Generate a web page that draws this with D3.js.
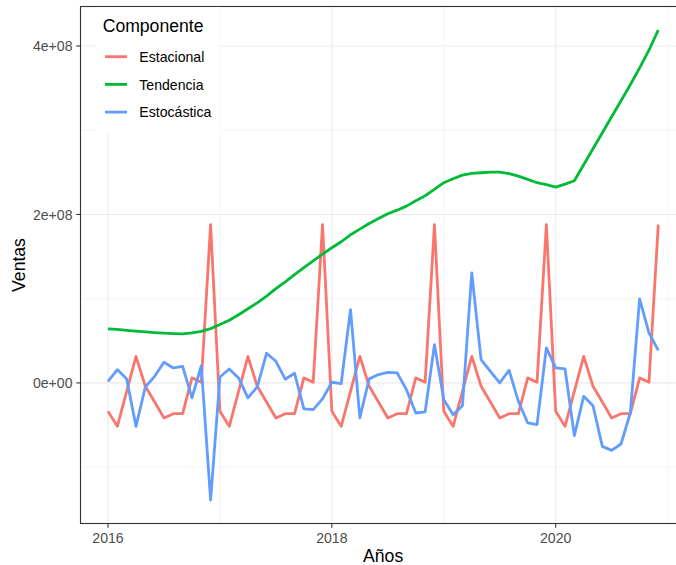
<!DOCTYPE html>
<html>
<head>
<meta charset="utf-8">
<script src="https://cdn.jsdelivr.net/npm/d3@7"></script>
<style>
  html, body { margin: 0; padding: 0; background: #fff; }
  svg { display: block; font-family: "Liberation Sans", Arial, sans-serif; }
</style>
</head>
<body>
<svg id="chart" width="676" height="565"></svg>
<script>
// Monthly decomposition of sales, Jan 2016 – Dec 2020 (values in millions)
const startYear = 2016;
const seriesNames = ["Estacional", "Tendencia", "Estocástica"];
const seriesColors = ["#F8766D", "#00BA38", "#619CFF"];

const estacional = [
  -33.7, -51.6, -10.0, 31.6, -4.0, -22.6, -41.6, -36.5, -36.5, 6.0, 0.7, 188.0,
  -33.7, -51.6, -10.0, 31.6, -4.0, -22.6, -41.6, -36.5, -36.5, 6.0, 0.7, 188.0,
  -33.7, -51.6, -10.0, 31.6, -4.0, -22.6, -41.6, -36.5, -36.5, 6.0, 0.7, 188.0,
  -33.7, -51.6, -10.0, 31.6, -4.0, -22.6, -41.6, -36.5, -36.5, 6.0, 0.7, 188.0,
  -33.7, -51.6, -10.0, 31.6, -4.0, -22.6, -41.6, -36.5, -36.5, 6.0, 0.7, 188.0
];

const tendencia = [
  64.2, 63.5, 62.5, 61.5, 60.5, 59.7, 59.0, 58.5, 58.2, 59.5, 61.3, 64.5,
  69.3, 74.5, 81.0, 88.0, 95.0, 103.0, 112.0, 120.0, 128.5, 137.0, 145.0, 153.0,
  160.5, 167.6, 175.9, 182.6, 189.3, 195.2, 200.8, 205.1, 209.9, 216.3, 222.2, 229.7,
  237.7, 242.4, 246.7, 248.7, 249.5, 250.3, 250.3, 248.4, 245.5, 241.6, 237.7, 235.3,
  232.5, 236.0, 240.0, 259.0, 278.0, 297.0, 316.0, 335.0, 354.0, 374.0, 395.0, 419.0
];

const estocastica = [
  1.9, 15.8, 4.8, -51.6, -4.8, 7.8, 24.5, 17.8, 19.7, -17.8, 20.6, -139.0,
  7.1, 16.6, 5.9, -17.8, -4.8, 35.2, 25.7, 4.4, 11.5, -30.9, -31.7, -19.0,
  0.8, -0.8, 87.1, -41.6, 4.8, 9.9, 12.6, 11.9, -8.0, -35.7, -34.5, 45.5,
  -19.8, -37.7, -27.0, 130.7, 27.7, 13.8, 0.0, 15.0, -21.8, -47.5, -49.5, 41.6,
  17.8, 16.6, -62.6, -15.9, -27.0, -75.3, -80.1, -72.5, -35.7, 99.8, 59.4, 38.7
];

const xTicks = [2016, 2018, 2020];
const xMinor = [2017, 2019, 2021];
const yTicks = [0, 2e8, 4e8];
const yTickLabels = ["0e+00", "2e+08", "4e+08"];
const yMinor = [-1e8, 1e8, 3e8];

const xTitle = "Años";
const yTitle = "Ventas";
const legendTitle = "Componente";

// ---- build long-format rows ----
const seriesValues = [estacional, tendencia, estocastica];
const series = seriesNames.map((name, s) => ({
  name,
  color: seriesColors[s],
  points: seriesValues[s].map((v, i) => ({ t: startYear + i / 12, v: v * 1e6 }))
}));

// ---- layout ----
const panel = { left: 80.5, top: 6.5, right: 685.8, bottom: 523.5 };
const svg = d3.select("#chart");

const allT = series.flatMap(s => s.points.map(p => p.t));
const allV = series.flatMap(s => s.points.map(p => p.v));
const tExt = d3.extent(allT), vExt = d3.extent(allV);
const tPad = (tExt[1] - tExt[0]) * 0.05, vPad = (vExt[1] - vExt[0]) * 0.05;

const x = d3.scaleLinear().domain([tExt[0] - tPad, tExt[1] + tPad]).range([panel.left, panel.right]);
const y = d3.scaleLinear().domain([vExt[0] - vPad, vExt[1] + vPad]).range([panel.bottom, panel.top]);

const gridColor = "#EBEBEB";
const g = svg.append("g");

// minor grid
g.selectAll(".ygm").data(yMinor).join("line")
  .attr("x1", panel.left).attr("x2", panel.right)
  .attr("y1", d => y(d)).attr("y2", d => y(d))
  .attr("stroke", gridColor).attr("stroke-width", 0.55);
g.selectAll(".xgm").data(xMinor).join("line")
  .attr("y1", panel.top).attr("y2", panel.bottom)
  .attr("x1", d => x(d)).attr("x2", d => x(d))
  .attr("stroke", gridColor).attr("stroke-width", 0.55);
// major grid
g.selectAll(".yg").data(yTicks).join("line")
  .attr("x1", panel.left).attr("x2", panel.right)
  .attr("y1", d => y(d)).attr("y2", d => y(d))
  .attr("stroke", gridColor).attr("stroke-width", 1.1);
g.selectAll(".xg").data(xTicks).join("line")
  .attr("y1", panel.top).attr("y2", panel.bottom)
  .attr("x1", d => x(d)).attr("x2", d => x(d))
  .attr("stroke", gridColor).attr("stroke-width", 1.1);

// lines
const line = d3.line().x(d => x(d.t)).y(d => y(d.v));
g.selectAll(".series").data(series).join("path")
  .attr("d", d => line(d.points))
  .attr("fill", "none")
  .attr("stroke", d => d.color)
  .attr("stroke-width", 2.8)
  .attr("stroke-linejoin", "round")
  .attr("stroke-linecap", "butt");

// panel border
g.append("rect")
  .attr("x", panel.left).attr("y", panel.top)
  .attr("width", panel.right - panel.left).attr("height", panel.bottom - panel.top)
  .attr("fill", "none").attr("stroke", "#333333").attr("stroke-width", 1.1);

// axes
const tickColor = "#333333", labelColor = "#4D4D4D";
const yAxis = g.append("g");
yAxis.selectAll("line").data(yTicks).join("line")
  .attr("x1", panel.left - 4.2).attr("x2", panel.left)
  .attr("y1", d => y(d)).attr("y2", d => y(d))
  .attr("stroke", tickColor).attr("stroke-width", 1.1);
yAxis.selectAll("text").data(yTicks).join("text")
  .attr("x", panel.left - 8).attr("y", d => y(d)).attr("dy", "0.36em")
  .attr("text-anchor", "end").attr("font-size", "14.1px").attr("fill", labelColor)
  .text((d, i) => yTickLabels[i]);

const xAxis = g.append("g");
xAxis.selectAll("line").data(xTicks).join("line")
  .attr("y1", panel.bottom).attr("y2", panel.bottom + 4.2)
  .attr("x1", d => x(d)).attr("x2", d => x(d))
  .attr("stroke", tickColor).attr("stroke-width", 1.1);
xAxis.selectAll("text").data(xTicks).join("text")
  .attr("x", d => x(d)).attr("y", 542.7)
  .attr("text-anchor", "middle").attr("font-size", "14.1px").attr("fill", labelColor)
  .text(d => d);

// axis titles
svg.append("text")
  .attr("x", (panel.left + panel.right) / 2).attr("y", 561.5)
  .attr("text-anchor", "middle").attr("font-size", "17.6px").attr("fill", "#000")
  .text(xTitle);
svg.append("text")
  .attr("transform", `translate(25,${(panel.top + panel.bottom) / 2}) rotate(-90)`)
  .attr("text-anchor", "middle").attr("font-size", "17.6px").attr("fill", "#000")
  .text(yTitle);

// legend
const lg = svg.append("g");
lg.append("rect").attr("x", 95).attr("y", 7).attr("width", 125).attr("height", 126).attr("fill", "#fff");
lg.append("text").attr("x", 102.7).attr("y", 32.2)
  .attr("font-size", "17.6px").attr("fill", "#000").text(legendTitle);
const item = lg.selectAll(".item").data(series).join("g")
  .attr("transform", (d, i) => `translate(0,${56.7 + i * 27.7})`);
item.append("line")
  .attr("x1", 105).attr("x2", 127).attr("y1", 0).attr("y2", 0)
  .attr("stroke", d => d.color).attr("stroke-width", 2.8);
item.append("text").attr("x", 139.3).attr("y", 5.3)
  .attr("font-size", "14.1px").attr("fill", "#000").text(d => d.name);
</script>
</body>
</html>
